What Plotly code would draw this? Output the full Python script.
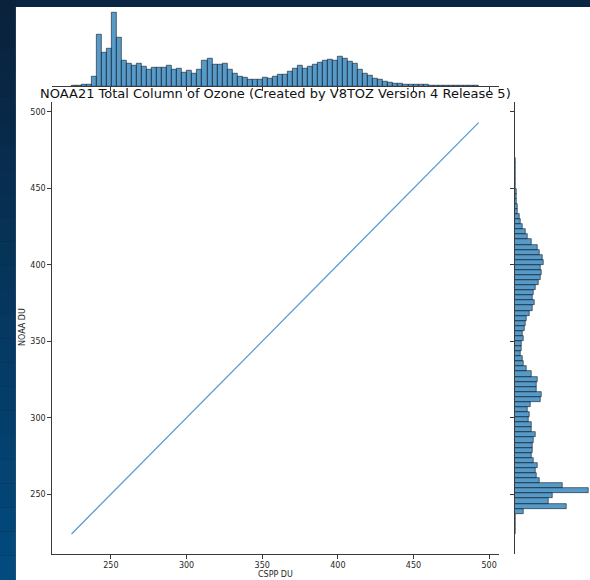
import numpy as np
import plotly.graph_objects as go

# ---------------- data ----------------
title_text = "NOAA21 Total Column of Ozone (Created by V8TOZ Version 4 Release 5)"
x_label = "CSPP DU"
y_label = "NOAA DU"

# CSPP vs NOAA total ozone (points lie on the 1:1 line)
cspp_du = [224.0, 493.0]
noaa_du = [224.0, 493.0]

# histogram (same distribution on both marginals)
bin_start = 224.0
bin_end = 493.0
hist_counts = [24, 36, 48, 48, 336, 1860, 1212, 1356, 2652, 1740,
               912, 804, 744, 816, 696, 600, 660, 660, 684, 744,
               600, 624, 492, 552, 456, 588, 936, 984, 792, 780,
               828, 600, 444, 336, 300, 228, 252, 252, 312, 288,
               348, 408, 432, 528, 636, 732, 648, 696, 768, 864,
               924, 960, 936, 1056, 1008, 888, 828, 600, 468, 396,
               288, 228, 168, 120, 96, 84, 72, 60, 48, 48,
               48, 36, 24, 24, 12, 12, 12, 12, 12, 12, 12]

tick_values = [250, 300, 350, 400, 450, 500]
tick_labels = ["250", "300", "350", "400", "450", "500"]
axis_range = [210.9, 506.5]

# ---------------- layout helpers ----------------
W, H = 590, 580
def px_x(p):
    return p / W
def px_y(p):
    return 1 - p / H

edges = np.linspace(bin_start, bin_end, len(hist_counts) + 1)
centers = (edges[:-1] + edges[1:]) / 2
bw = edges[1] - edges[0]
cmax = max(hist_counts)

bar_fill = "rgba(31,119,180,0.75)"
bar_edge = "rgba(15,25,35,0.85)"
spine = "#3a3a3a"
tick_font = dict(family="DejaVu Sans", size=8, color="#262626")

fig = go.Figure()

fig.add_trace(go.Scatter(x=cspp_du, y=noaa_du, mode="lines",
                         line=dict(color="#5a9ad0", width=1.3),
                         xaxis="x", yaxis="y", showlegend=False))

fig.add_trace(go.Bar(x=centers, y=hist_counts, width=bw,
                     marker=dict(color=bar_fill, line=dict(color=bar_edge, width=0.7)),
                     xaxis="x2", yaxis="y2", showlegend=False))

fig.add_trace(go.Bar(y=centers, x=hist_counts, width=bw, orientation="h",
                     marker=dict(color=bar_fill, line=dict(color=bar_edge, width=0.7)),
                     xaxis="x3", yaxis="y3", showlegend=False))

main_x_dom = [px_x(51.7), px_x(499)]
main_y_dom = [px_y(554), px_y(102)]

common_tick = dict(ticks="outside", ticklen=3.5, tickwidth=0.8, tickcolor=spine,
                   showline=True, linecolor=spine, linewidth=1, showgrid=False,
                   zeroline=False, tickvals=tick_values, ticktext=tick_labels)

fig.update_layout(
    width=W, height=H,
    margin=dict(l=0, r=0, t=0, b=0),
    paper_bgcolor="#0a2542",
    plot_bgcolor="white",
    bargap=0,
    xaxis=dict(domain=main_x_dom, range=axis_range, anchor="y", tickfont=tick_font, **common_tick),
    yaxis=dict(domain=main_y_dom, range=axis_range, anchor="x", tickfont=tick_font, **common_tick),
    xaxis2=dict(domain=main_x_dom, range=axis_range, anchor="y2", matches="x",
                showticklabels=False, **common_tick),
    yaxis2=dict(domain=[px_y(86.4), px_y(8.6)], range=[0, cmax * 1.056], anchor="x2",
                visible=False),
    xaxis3=dict(domain=[px_x(514.6), 1.0], range=[0, cmax * 1.0234], anchor="y3",
                visible=False),
    yaxis3=dict(domain=main_y_dom, range=axis_range, anchor="x3", matches="y",
                showticklabels=False, **common_tick),
)

# background: white panel with a dark blue page strip on the top/left
shapes = [dict(type="rect", xref="paper", yref="paper", x0=px_x(15.7), x1=1, y0=0, y1=px_y(7),
               fillcolor="white", line=dict(width=0), layer="below")]
top_c = np.array([10, 34, 60])
bot_c = np.array([3, 74, 126])
nb = 24
for i in range(nb):
    t = i / (nb - 1)
    c = (top_c * (1 - t) + bot_c * t).astype(int)
    shapes.append(dict(type="rect", xref="paper", yref="paper",
                       x0=0, x1=px_x(15.7), y0=px_y(H * (i + 1) / nb), y1=px_y(H * i / nb),
                       fillcolor=f"rgb({c[0]},{c[1]},{c[2]})", line=dict(width=0), layer="below"))
fig.update_layout(shapes=shapes)

fig.add_annotation(text=title_text, xref="paper", yref="paper",
                   x=px_x(275.5), y=px_y(93), xanchor="center", yanchor="middle",
                   showarrow=False, font=dict(family="DejaVu Sans", size=13, color="#111"))
fig.add_annotation(text=x_label, xref="paper", yref="paper",
                   x=px_x(275.5), y=px_y(574), xanchor="center", yanchor="middle",
                   showarrow=False, font=dict(family="DejaVu Sans", size=8, color="#262626"))
fig.add_annotation(text=y_label, xref="paper", yref="paper",
                   x=px_x(22), y=px_y(327), xanchor="center", yanchor="middle", textangle=-90,
                   showarrow=False, font=dict(family="DejaVu Sans", size=8, color="#262626"))

fig.write_html("out.html", config={"displayModeBar": False},
               post_script="document.body.style.margin='0';document.body.style.overflow='hidden';")
